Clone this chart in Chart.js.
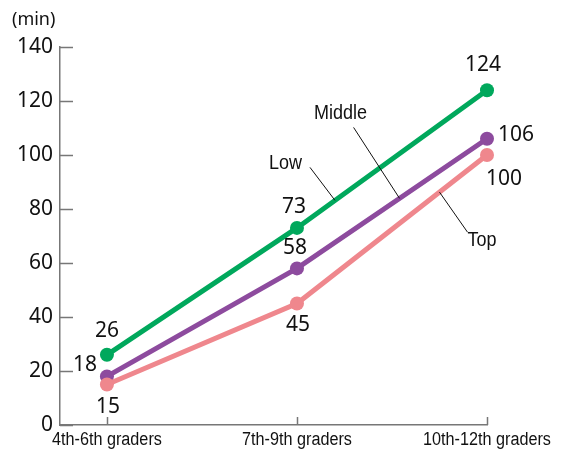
<!DOCTYPE html>
<html>
<head>
<meta charset="utf-8">
<script src="https://cdn.jsdelivr.net/npm/chart.js@4/dist/chart.umd.min.js"></script>
<style>
  html, body { margin: 0; padding: 0; background: #fff; }
  #wrap { width: 563px; height: 455px; }
</style>
</head>
<body>
<div id="wrap"><canvas id="c" width="563" height="455"></canvas></div>
<script>
// Study time per day by school stage and achievement group
const categories = ['4th-6th graders', '7th-9th graders', '10th-12th graders'];
const lowValues = [26, 73, 124];
const middleValues = [18, 58, 106];
const topValues = [15, 45, 100];
const yTicks = [0, 20, 40, 60, 80, 100, 120, 140];
const unitLabel = '(min)';
const seriesNames = ['Low', 'Middle', 'Top'];

const colors = { Low: '#00a85c', Middle: '#8d4b9e', Top: '#ef878d' };
const axisColor = '#777777';
const textColor = '#111111';
const numFont = '21px "Noto Sans", sans-serif';
const narrowFont = '20px "Liberation Sans", Arial, sans-serif';
const axisNarrowFont = '18px "Liberation Sans", Arial, sans-serif';
const narrowScale = 0.9;

// where each value label sits relative to its point: [dx, dy, align]
const labelPlacement = {
  Low:    [[0, -24, 'center'], [-3, -21, 'center'], [-4, -25, 'center']],
  Middle: [[-10, -11, 'right'], [-2, -20, 'center'], [11, -4, 'left']],
  Top:    [[1, 23, 'center'], [1, 22, 'center'], [17, 24, 'center']]
};

// series name callouts: anchor along the x scale, leader end offset, text offset
const callouts = {
  Low:    { at: 1.2,  end: [-25, -33], text: [-8, -4], align: 'right' },
  Middle: { at: 1.54, end: [-46, -71], text: [-13, -14], align: 'center' },
  Top:    { at: 1.75, end: [28, 40], text: [0, 8], align: 'left' }
};

const seriesValues = { Low: lowValues, Middle: middleValues, Top: topValues };

function toPoints(vals) { return vals.map((v, i) => ({ x: i, y: v })); }

function valueAt(vals, xv) {
  const i = Math.min(Math.floor(xv), vals.length - 2);
  const f = xv - i;
  return vals[i] + (vals[i + 1] - vals[i]) * f;
}

function narrowText(ctx, text, x, y, align, font) {
  ctx.save();
  ctx.font = font;
  ctx.textBaseline = 'middle';
  const w = ctx.measureText(text).width * narrowScale;
  let left = x;
  if (align === 'center') left = x - w / 2;
  else if (align === 'right') left = x - w;
  ctx.translate(left, y);
  ctx.scale(narrowScale, 1);
  ctx.textAlign = 'left';
  ctx.fillText(text, 0, 0);
  ctx.restore();
}

const decorations = {
  id: 'decorations',
  afterDraw(chart) {
    const { ctx, chartArea, scales } = chart;
    const xs = scales.x, ys = scales.y;
    ctx.save();
    ctx.fillStyle = textColor;

    // inward tick marks
    ctx.strokeStyle = axisColor;
    ctx.lineWidth = 1.5;
    ctx.beginPath();
    yTicks.forEach(v => {
      const py = Math.round(ys.getPixelForValue(v)) + 0.5;
      ctx.moveTo(chartArea.left, py);
      ctx.lineTo(chartArea.left + 13, py);
    });
    categories.forEach((c, i) => {
      const px = Math.round(xs.getPixelForValue(i)) + 0.5;
      ctx.moveTo(px, chartArea.bottom);
      ctx.lineTo(px, chartArea.bottom - 8);
    });
    ctx.stroke();

    // category labels
    ctx.fillStyle = textColor;
    categories.forEach((c, i) => {
      narrowText(ctx, c, xs.getPixelForValue(i), chartArea.bottom + 15, 'center', axisNarrowFont);
    });

    // unit label
    ctx.font = '18px "Noto Sans", sans-serif';
    ctx.textAlign = 'left';
    ctx.textBaseline = 'middle';
    ctx.fillText(unitLabel, 12, 20);

    // value labels
    ctx.font = numFont;
    ctx.textBaseline = 'middle';
    seriesNames.forEach(name => {
      seriesValues[name].forEach((v, i) => {
        const [dx, dy, align] = labelPlacement[name][i];
        ctx.textAlign = align;
        ctx.fillText(String(v), xs.getPixelForValue(i) + dx, ys.getPixelForValue(v) + dy);
      });
    });

    // series callouts with leader lines
    ctx.strokeStyle = '#111111';
    ctx.lineWidth = 1;
    seriesNames.forEach(name => {
      const c = callouts[name];
      const ax = xs.getPixelForValue(c.at);
      const ay = ys.getPixelForValue(valueAt(seriesValues[name], c.at));
      const ex = ax + c.end[0], ey = ay + c.end[1];
      ctx.beginPath();
      ctx.moveTo(ax, ay);
      ctx.lineTo(ex, ey);
      ctx.stroke();
      narrowText(ctx, name, ex + c.text[0], ey + c.text[1], c.align, narrowFont);
    });
    ctx.restore();
  }
};

function dataset(name) {
  return {
    label: name,
    data: toPoints(seriesValues[name]),
    borderColor: colors[name],
    backgroundColor: colors[name],
    pointBackgroundColor: colors[name],
    pointBorderWidth: 0,
    pointRadius: 7,
    borderWidth: 5,
    tension: 0,
    clip: false
  };
}

new Chart(document.getElementById('c'), {
  type: 'line',
  data: { datasets: [dataset('Top'), dataset('Middle'), dataset('Low')] },
  options: {
    responsive: false,
    animation: false,
    layout: { padding: { top: 47, right: 76, left: 0, bottom: 0 } },
    plugins: { legend: { display: false }, tooltip: { enabled: false } },
    scales: {
      x: {
        type: 'linear',
        min: -0.247,
        max: 2,
        grid: { display: false },
        border: { display: true, color: axisColor, width: 1.5 },
        ticks: { display: false },
        afterFit(s) { s.height = 30; }
      },
      y: {
        min: 0,
        max: 140,
        grid: { display: false, drawTicks: false },
        border: { display: true, color: axisColor, width: 1.5 },
        afterBuildTicks(s) { s.ticks = yTicks.map(v => ({ value: v })); },
        ticks: {
          padding: 7,
          color: textColor,
          font: { family: '"Noto Sans", sans-serif', size: 21 }
        },
        afterFit(s) { s.width = 60; }
      }
    }
  },
  plugins: [decorations]
});
</script>
</body>
</html>
